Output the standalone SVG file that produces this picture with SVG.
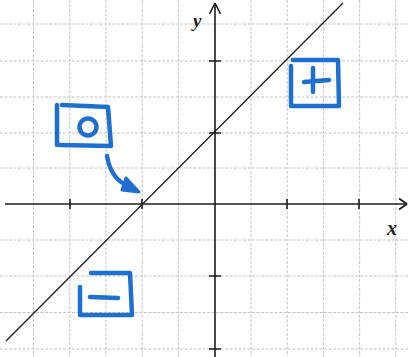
<svg xmlns="http://www.w3.org/2000/svg" width="409" height="357" viewBox="0 0 409 357">
<style>
.grid{stroke:#c4c4c4;stroke-width:1;stroke-dasharray:3 1.5;fill:none}
.axis{stroke:#1c1c1c;stroke-width:1.6;fill:none}
.line{stroke:#1c1c1c;stroke-width:1.3;fill:none}
.ink{stroke:#1f6fd0;stroke-width:4.5;fill:none;stroke-linecap:round;stroke-linejoin:round}
.lbl{font-family:"Liberation Serif","DejaVu Serif",serif;font-style:italic;font-weight:bold;fill:#1c1c1c}
</style>
<defs>
<marker id="ah" viewBox="0 0 10 10" refX="9" refY="5" markerWidth="9" markerHeight="9" markerUnits="userSpaceOnUse" orient="auto">
<path d="M0,0 L10,5 L0,10" fill="none" stroke="#1c1c1c" stroke-width="1.6"/>
</marker>
</defs>
<rect width="409" height="357" fill="#ffffff"/>
<g id="grid" class="grid">
<path d="M33.5,0V357M69.8,0V357M106,0V357M142.2,0V357M178.4,0V357M251,0V357M287.2,0V357M323.4,0V357M359.6,0V357M395.8,0V357"/>
<path d="M0,24H409M0,61H409M0,97H409M0,133H409M0,168H409M0,240H409M0,276H409M0,312.5H409M0,349H409"/>
</g>
<g id="axes">
<path class="axis" d="M5,204H406"/>
<path class="axis" d="M407,204L399,198.5M407,204L399,209.5"/>
<path class="axis" d="M215,357V4"/>
<path class="axis" d="M215,3L209.5,14M215,3L220.5,14"/>
<path class="axis" d="M70,199V209M142,199V209M287,199V209M359,199V209"/>
<path class="axis" d="M209,61H221M209,133H221M209,276H221M209,349H221"/>
<text class="lbl" x="193" y="27" font-size="19">y</text>
<text class="lbl" x="387" y="235" font-size="20">x</text>
</g>
<g id="line">
<path class="line" d="M6,341L343,3"/>
</g>
<g id="box-zero">
<path class="ink" d="M57,105V145M62,105L108,107L111,146L60,145"/>
<circle class="ink" cx="88" cy="127" r="8.5"/>
</g>
<g id="box-plus">
<path class="ink" d="M291,66V104M293,60L338,60L339,106L291,106"/>
<path class="ink" d="M304,82L329,80M313,68V92"/>
</g>
<g id="box-minus">
<path class="ink" d="M91,273L130,273L132,315L80,315M80,287V313"/>
<path class="ink" d="M90,297L118,298"/>
</g>
<g id="connectors">
<path class="ink" d="M107,156C109,168 114,180 128,186"/>
<path d="M122,190L126,178L139,192Z" fill="#1f6fd0" stroke="#1f6fd0" stroke-width="3" stroke-linejoin="round"/>
</g>
</svg>
